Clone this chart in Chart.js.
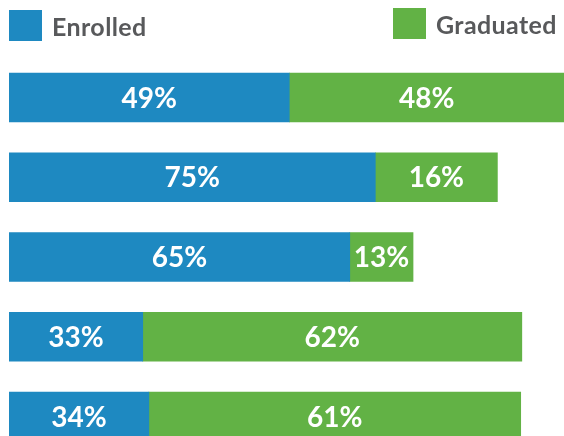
<!DOCTYPE html>
<html>
<head>
<meta charset="utf-8">
<script src="https://cdn.jsdelivr.net/npm/chart.js@4.4.0/dist/chart.umd.min.js"></script>
<style>
  html, body { margin: 0; padding: 0; background: #fff; }
  .wrap { position: relative; width: 564px; height: 436px; }
  .legend-item { position: absolute; display: flex; align-items: center; font-family: Lato, sans-serif; font-weight: bold; font-size: 25px; color: #58595b; letter-spacing: 0.4px; }
  .legend-item span.box { display: inline-block; width: 33px; height: 31px; margin-right: 10px; }
</style>
</head>
<body>
<div class="wrap">
  <div class="legend-item" id="leg-enrolled" style="left:9px; top:10px;"><span class="box"></span><span class="txt"></span></div>
  <div class="legend-item" id="leg-graduated" style="left:393px; top:8px;"><span class="box"></span><span class="txt"></span></div>
  <canvas id="chart" width="564" height="436"></canvas>
</div>
<script>
  // row index (top to bottom)
  const rows = [0, 1, 2, 3, 4];

  // bar lengths as drawn (share of the full width)
  const enrolledLength = [50.5, 66, 61.4, 24.1, 25.2];
  const graduatedLength = [49.5, 22, 11.4, 68.3, 67];

  // printed percentages
  const enrolledPct = [49, 75, 65, 33, 34];
  const graduatedPct = [48, 16, 13, 62, 61];

  const seriesNames = ['Enrolled', 'Graduated'];
  const colors = ['#1e89c1', '#62b245'];

  // legend
  ['leg-enrolled', 'leg-graduated'].forEach((id, i) => {
    const el = document.getElementById(id);
    el.querySelector('.box').style.background = colors[i];
    el.querySelector('.txt').textContent = seriesNames[i];
  });

  const pctLabels = {
    id: 'pctLabels',
    afterDatasetsDraw(chart) {
      const c = chart.ctx;
      const sets = [enrolledPct, graduatedPct];
      c.save();
      c.fillStyle = '#fff';
      c.font = 'bold 28px Lato, sans-serif';
      c.textAlign = 'center';
      c.textBaseline = 'middle';
      chart.data.datasets.forEach((ds, di) => {
        chart.getDatasetMeta(di).data.forEach((bar, i) => {
          const cx = (bar.x + bar.base) / 2;
          c.fillText(sets[di][i] + '%', cx, bar.y + 1);
        });
      });
      c.restore();
    }
  };

  new Chart(document.getElementById('chart').getContext('2d'), {
    type: 'bar',
    data: {
      datasets: [
        {
          label: seriesNames[0],
          data: rows.map((r, i) => ({ x: enrolledLength[i], y: r })),
          backgroundColor: colors[0],
          barThickness: 49
        },
        {
          label: seriesNames[1],
          data: rows.map((r, i) => ({ x: graduatedLength[i], y: r })),
          backgroundColor: colors[1],
          barThickness: 49
        }
      ]
    },
    options: {
      indexAxis: 'y',
      responsive: false,
      animation: false,
      layout: { padding: { left: 9, top: 50, right: 0, bottom: 0 } },
      plugins: {
        legend: { display: false },
        tooltip: { enabled: false }
      },
      scales: {
        x: { type: 'linear', stacked: true, min: 0, max: 100, display: false },
        y: { type: 'linear', stacked: true, reverse: true, offset: false, min: -0.596, max: 4.244, display: false }
      }
    },
    plugins: [pctLabels]
  });
</script>
</body>
</html>
